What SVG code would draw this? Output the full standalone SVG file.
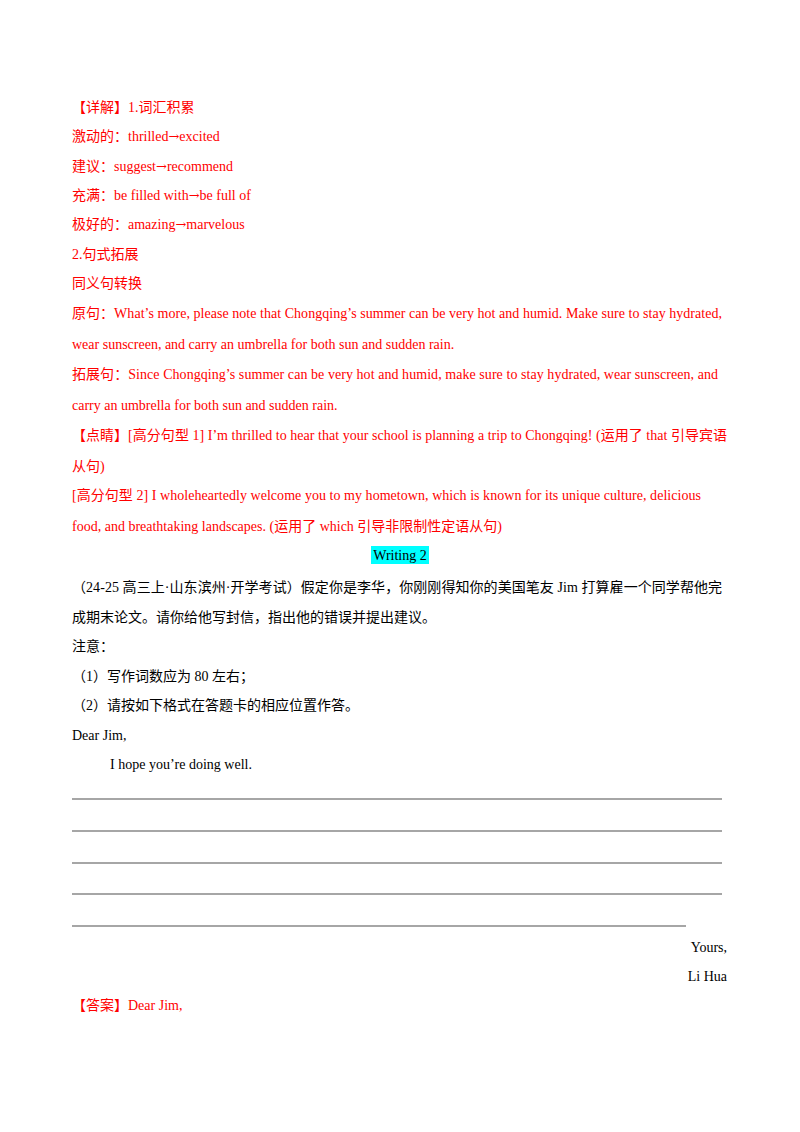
<svg xmlns="http://www.w3.org/2000/svg" width="800" height="1132" viewBox="0 0 800 1132">
<style>
text{font-family:"Liberation Serif","Noto Sans CJK SC",serif;font-size:14px;fill:#000}
.r{fill:#ff0000}
.a{font-family:"DejaVu Serif",serif;font-size:13px}
.ln{stroke:#000;stroke-width:0.7}
</style>
<rect width="800" height="1132" fill="#fff"/>
<text class="r" x="72" y="112">【详解】1.词汇积累</text>
<text class="r" x="72" y="141">激动的：thrilled<tspan class="a">→</tspan>excited</text>
<text class="r" x="72" y="171">建议：suggest<tspan class="a">→</tspan>recommend</text>
<text class="r" x="72" y="200">充满：be filled with<tspan class="a">→</tspan>be full of</text>
<text class="r" x="72" y="229">极好的：amazing<tspan class="a">→</tspan>marvelous</text>
<text class="r" x="72" y="259">2.句式拓展</text>
<text class="r" x="72" y="288">同义句转换</text>
<text class="r" x="72" y="318" textLength="650" lengthAdjust="spacing">原句：What’s more, please note that Chongqing’s summer can be very hot and humid. Make sure to stay hydrated,</text>
<text class="r" x="72" y="349">wear sunscreen, and carry an umbrella for both sun and sudden rain.</text>
<text class="r" x="72" y="379" textLength="646" lengthAdjust="spacing">拓展句：Since Chongqing’s summer can be very hot and humid, make sure to stay hydrated, wear sunscreen, and</text>
<text class="r" x="72" y="410">carry an umbrella for both sun and sudden rain.</text>
<text class="r" x="72" y="440" textLength="655" lengthAdjust="spacing">【点睛】[高分句型 1] I’m thrilled to hear that your school is planning a trip to Chongqing! (运用了 that 引导宾语</text>
<text class="r" x="72" y="471">从句)</text>
<text class="r" x="72" y="500" textLength="629" lengthAdjust="spacing">[高分句型 2] I wholeheartedly welcome you to my hometown, which is known for its unique culture, delicious</text>
<text class="r" x="72" y="531">food, and breathtaking landscapes. (运用了 which 引导非限制性定语从句)</text>
<rect x="371" y="546" width="58" height="18" fill="#00ffff"/>
<text x="400" y="560" text-anchor="middle">Writing  2</text>
<g id="task">
<text x="72" y="592" textLength="650" lengthAdjust="spacing">（24-25 高三上·山东滨州·开学考试）假定你是李华，你刚刚得知你的美国笔友 Jim 打算雇一个同学帮他完</text>
<text x="72" y="622">成期末论文。请你给他写封信，指出他的错误并提出建议。</text>
<text x="72" y="651">注意：</text>
<text x="72" y="681">（1）写作词数应为 80 左右；</text>
<text x="72" y="710">（2）请按如下格式在答题卡的相应位置作答。</text>
<text x="72" y="740">Dear Jim,</text>
<text x="110" y="769">I hope you’re doing well.</text>
</g>
<g id="lines">
<line class="ln" x1="72" y1="799" x2="722" y2="799"/>
<line class="ln" x1="72" y1="831" x2="722" y2="831"/>
<line class="ln" x1="72" y1="863" x2="722" y2="863"/>
<line class="ln" x1="72" y1="894" x2="722" y2="894"/>
<line class="ln" x1="72" y1="926" x2="686" y2="926"/>
</g>
<text x="727" y="952" text-anchor="end">Yours,</text>
<text x="727" y="981" text-anchor="end">Li Hua</text>
<text class="r" x="72" y="1010">【答案】Dear Jim,</text>
</svg>
